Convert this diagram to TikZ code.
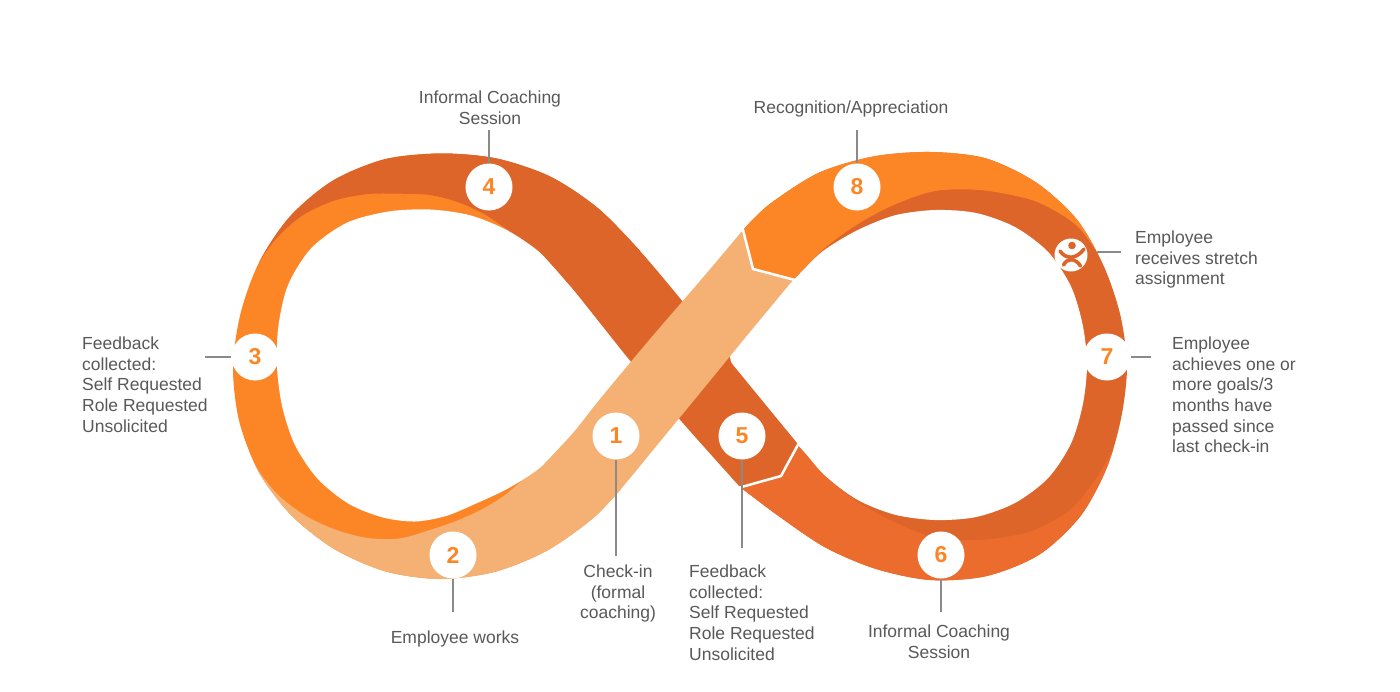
\documentclass[tikz,border=0pt]{standalone}
\usepackage{fontspec}
\setmainfont{Liberation Sans}
\definecolor{dk}{HTML}{DD6529}
\definecolor{br}{HTML}{FC8626}
\definecolor{pe}{HTML}{F4B173}
\definecolor{bo}{HTML}{EB6C2C}
\definecolor{txt}{HTML}{595959}
\definecolor{ld}{HTML}{8A8A8A}
\begin{document}
\begin{tikzpicture}[x=1pt,y=-1pt,
  num/.style={circle,fill=white,minimum size=47pt,inner sep=0pt,font=\fontsize{23}{23}\selectfont\bfseries,text=br},
  lbl/.style={font=\fontsize{17.5}{20.7}\selectfont,text=txt,inner sep=0pt},
  leader/.style={draw=ld,line width=1.4pt},
  notchline/.style={draw=white,line width=2.5pt,line join=miter},
  figline/.style={draw=dk,line width=3.6pt,line cap=round}]
\useasboundingbox (0,0) rectangle (1400,691);
\fill[white] (0,0) rectangle (1400,691);

% ---------- left loop (clipped to its outer contour)
\begin{scope}
\clip plot[smooth] coordinates {(640,251) (598.4,208.6) (550,176.5) (495.9,158.4) (440,153.5) (384.4,159.3) (332.5,180.8) (289.7,216.7) (259,262.5) (240.5,313.6) (233,367) (239.1,420.8) (258.6,471.75) (291.5,515.5) (334.75,549.3) (385.3,571.3) (440,579) (494.9,571.8) (546.25,551) (592,519) (620,490)} -- (640,440) -- (660,360) -- cycle;
\fill[br] (200,100) rectangle (700,650);
\fill[dk] (200,330) -- plot[smooth] coordinates {(234,332.5) (242.5,298.8) (256.45,266.8) (276.5,238.2) (302.7,215.3) (334,200.7) (367.1,194.1) (399.4,193.7) (430,195) (459,202.5) (485.4,214.8) (508.75,230.6)} -- (480,300) -- (640,450) -- (700,420) -- (700,100) -- (200,100) -- cycle;
\fill[pe] (200,400) -- plot[smooth] coordinates {(234,401.5) (242.1,435.4) (256.4,467.25) (277.9,494.6) (305.3,515.6) (336,529.8) (367.75,538) (399.8,538.4) (430,530) (457.1,520.6) (481.8,509.4) (504.25,495.6) (523.8,478.8)} -- (540,440) -- (620,400) -- (700,520) -- (200,620) -- cycle;
\end{scope}

% ---------- right loop (clipped to its outer contour)
\begin{scope}
\clip (735,255) -- plot[smooth] coordinates {(743,230) (768.8,204.8) (818.5,172.9) (873.8,156.4) (930,152) (985.6,158.3) (1036,182.4) (1076.7,219.3) (1103.6,265.75) (1120.3,315) (1127,366) (1121.3,417.2) (1106.7,468) (1080.3,516.3) (1039,554.8) (986.3,576.1) (930,580) (875.6,568.8) (825.25,547.4) (779.4,516.6) (740,487)} -- (700,420) -- (690,340) -- cycle;
\fill[dk] (650,100) rectangle (1200,650);
\fill[br] (1150,330) -- plot[smooth] coordinates {(1125.3,314) (1114.4,281.3) (1096.6,251.8) (1080.5,229.3) (1061.3,214.5) (1030.5,199.6) (981.8,190.2) (935,191) (892.3,205.6) (854.75,226) (821.2,251.2) (791.2,282)} -- (700,330) -- (700,120) -- (1150,120) -- cycle;
\fill[bo] (1150,400) -- plot[smooth] coordinates {(1126.7,416.4) (1113.5,448.25) (1096.4,478) (1070,509.8) (1031,531.3) (981.8,539.8) (935,537.5) (893.1,521.5) (856.5,501) (824.7,475.3) (797.3,444.5)} -- (720,440) -- (720,620) -- (1150,620) -- cycle;
\end{scope}

% ---------- holes
\fill[white] plot[smooth cycle] coordinates {(570.3,286) (542.4,254.6) (508.5,231) (470.6,215.4) (430,209.5) (388.3,211.5) (346.75,222.8) (311.2,248.2) (288,285) (278.35,326.4) (277,367) (282.2,406.6) (294.9,445) (317.9,479.1) (349,504) (383,517.5) (415,521.5) (446,516) (475,504) (507,489) (535,471.5) (560,450) (610,400) (645,360) (600,315)};
\fill[white] plot[smooth cycle] coordinates {(791.2,282) (821.9,251.9) (857.25,230.3) (894.9,215.3) (935,210) (975.8,212.9) (1014.75,226.9) (1048.1,251.9) (1071,286.5) (1082.8,325.4) (1087,365) (1082.8,404.6) (1071,443.5) (1048.1,478.1) (1014.75,503.1) (975.8,517.1) (935,520) (894.9,514.7) (857.25,499.7) (824.7,475.3) (797.3,444.5) (750,400) (730,340)};

% ---------- diagonal bands
\fill[dk] plot[smooth] coordinates {(384.4,159.3) (440,153.5) (495.9,158.4) (550,176.5) (598.4,208.6) (640,251) (683,302) (729,360) (797,443)}
  -- (781,476)
  -- plot[smooth] coordinates {(740,487) (682,422) (632,363) (600,323) (570.3,286) (542.4,254.6)}
  -- (500,205) -- (440,180) -- (390,175) -- cycle;
\fill[pe] plot[smooth] coordinates {(334.75,549.3) (385.3,571.3) (440,579) (494.9,571.8) (546.25,551) (592,519) (620,490) (660,441.5) (700,393) (740,344) (793,280)}
  -- (753,269)
  -- plot[smooth] coordinates {(743,230) (700,281) (650,339) (600,399) (573,433) (545,463)}
  -- (505,512) -- (430,548) -- (385,556) -- (345,541) -- cycle;

% white notch cuts
\draw[notchline] (742,226) -- (753,269) -- (795,280);
\draw[notchline] (800,441) -- (781,476) -- (738,488);

% numbered circles
\node[num] (c1) at (616,436) {1};
\node[num] (c2) at (453,555) {2};
\node[num] (c3) at (255,357) {3};
\node[num] (c4) at (489,187) {4};
\node[num] (c5) at (742,436) {5};
\node[num] (c6) at (941,555) {6};
\node[num] (c7) at (1107,357) {7};
\node[num] (c8) at (857,187) {8};

% stretch icon
\node[circle,fill=white,minimum size=33pt,inner sep=0pt] (ic) at (1071,255) {};
\fill[dk] (1072,245.5) circle (3.8pt);
\draw[figline] (1060,251) .. controls (1066,260) and (1077,259) .. (1084,249);
\draw[figline] (1063.5,265) .. controls (1067,258) and (1075,257.5) .. (1080.5,266);

% labels
\node[lbl,align=center,anchor=north] (t4) at (490,90.5) {Informal Coaching\\Session};
\node[lbl,align=center,anchor=north] (t8) at (851,100.5) {Recognition/Appreciation};
\node[lbl,align=left,anchor=north west] (tic) at (1135,230.5) {Employee\\receives stretch\\assignment};
\node[lbl,align=left,anchor=north west] (t7) at (1172,336.5) {Employee\\achieves one or\\more goals/3\\months have\\passed since\\last check-in};
\node[lbl,align=left,anchor=north west] (t3) at (82,336.5) {Feedback\\collected:\\Self Requested\\Role Requested\\Unsolicited};
\node[lbl,align=center,anchor=north] (t2) at (455,630.5) {Employee works};
\node[lbl,align=center,anchor=north] (t1) at (618,564.5) {Check-in\\(formal\\coaching)};
\node[lbl,align=left,anchor=north west] (t5) at (689,564.5) {Feedback\\collected:\\Self Requested\\Role Requested\\Unsolicited};
\node[lbl,align=center,anchor=north] (t6) at (939,624.5) {Informal Coaching\\Session};

% leader lines
\coordinate (e4) at (489,130);
\coordinate (e8) at (857,130);
\coordinate (eic1) at (1097,252);
\coordinate (eic2) at (1121,252);
\coordinate (e7) at (1151,357);
\coordinate (e3) at (205,357);
\coordinate (e2) at (453,612);
\coordinate (e1) at (616,556);
\coordinate (e5) at (742,548);
\coordinate (e6) at (941,612);
\draw[leader] (c4.north) -- (e4);
\draw[leader] (c8.north) -- (e8);
\draw[leader] (eic1) -- (eic2);
\draw[leader] (c7.east) -- (e7);
\draw[leader] (c3.west) -- (e3);
\draw[leader] (c2.south) -- (e2);
\draw[leader] (c1.south) -- (e1);
\draw[leader] (c5.south) -- (e5);
\draw[leader] (c6.south) -- (e6);
\end{tikzpicture}
\end{document}
